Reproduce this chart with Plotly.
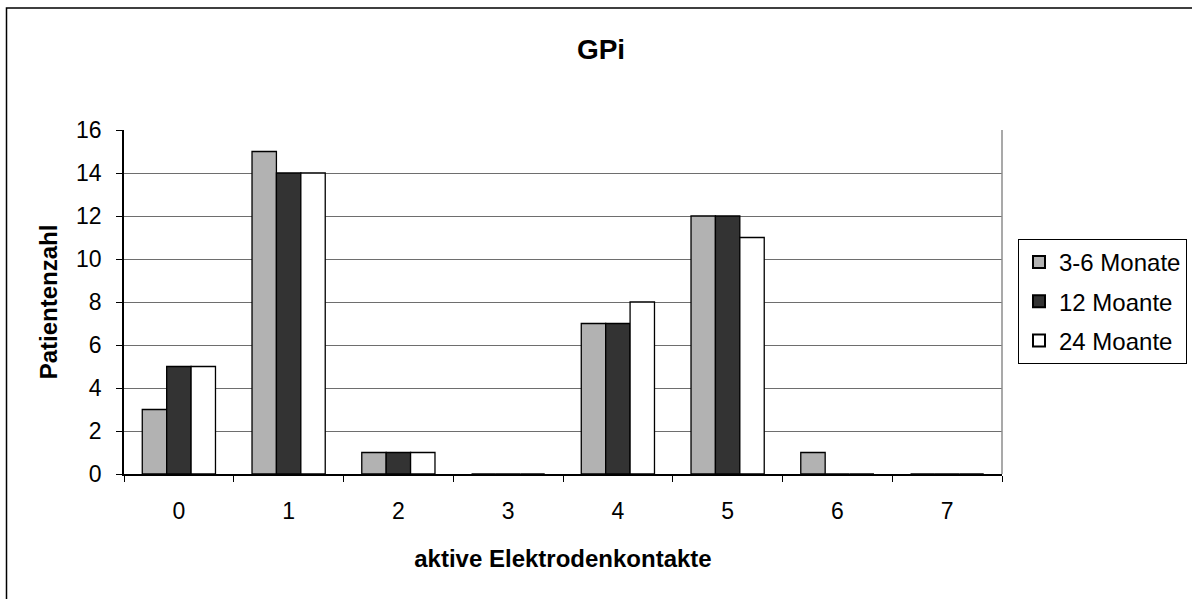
import plotly.graph_objects as go

categories = [0, 1, 2, 3, 4, 5, 6, 7]
series_names = ["3-6 Monate", "12 Moante", "24 Moante"]
v_3_6 = [3, 15, 1, 0, 7, 12, 1, 0]
v_12 = [5, 14, 1, 0, 7, 12, 0, 0]
v_24 = [5, 14, 1, 0, 8, 11, 0, 0]
colors = ["#B2B2B2", "#333333", "#FFFFFF"]
y_ticks = [0, 2, 4, 6, 8, 10, 12, 14, 16]

fig = go.Figure()
for name, vals, col in zip(series_names, [v_3_6, v_12, v_24], colors):
    fig.add_trace(go.Bar(x=categories, y=vals, name=name, legendgroup=name,
                         marker=dict(color=col, line=dict(color="#000000", width=1.3))))

L, R, T, B = 124, 190, 130, 125
W, H = 1192, 599
pw, ph = W - L - R, H - T - B

fig.update_layout(
    width=W, height=H,
    margin=dict(l=L, r=R, t=T, b=B, pad=0, autoexpand=False),
    paper_bgcolor="white", plot_bgcolor="white",
    barmode="group", bargap=0.333, bargroupgap=0,
    font=dict(family="Liberation Sans, Arial, sans-serif", size=23, color="#000"),
    title=dict(text="<b>GPi</b>", x=(601 - L) / pw, xref="paper", xanchor="center",
               y=1 - 49 / H, yanchor="middle", font=dict(size=28)),
    showlegend=True,
    legend=dict(xref="container", yref="container", x=1018 / W, y=1 - 239 / H,
                xanchor="left", yanchor="top",
                bordercolor="#000", borderwidth=1, bgcolor="white",
                font=dict(size=24), itemsizing="constant",
                traceorder="grouped", tracegroupgap=5),
    xaxis=dict(range=[-0.5, 7.5], tickvals=categories, ticktext=[str(c) for c in categories],
               ticks="", showgrid=False, showline=True, linecolor="#000", linewidth=1.5,
               ticklabelstandoff=16, tickfont=dict(size=23),
               minor=dict(tick0=-0.5, dtick=1, ticks="outside", ticklen=6, tickcolor="#000", showgrid=False),
               title=dict(text="<b>aktive Elektrodenkontakte</b>", standoff=27, font=dict(size=24)),
               zeroline=False),
    yaxis=dict(range=[0, 16], tickvals=y_ticks, ticks="outside", ticklen=6, tickcolor="#000",
               showgrid=True, gridcolor="#6E6E6E", gridwidth=1,
               showline=True, linecolor="#000", linewidth=1.5, zeroline=False,
               ticklabelstandoff=10, tickfont=dict(size=23),
               title=dict(text="<b>Patientenzahl</b>", standoff=12, font=dict(size=24))),
)

# right plot border (gray)
fig.add_shape(type="line", xref="paper", yref="paper", x0=1, x1=1, y0=0, y1=1,
              line=dict(color="#8C8C8C", width=1.5))
# outer chart border
fig.add_shape(type="rect", xref="paper", yref="paper",
              x0=(6.5 - L) / pw, x1=(W + 20 - L) / pw,
              y0=-(H + 20 - (T + ph)) / ph, y1=(T + ph - 8) / ph,
              line=dict(color="#000", width=1.5), fillcolor="rgba(0,0,0,0)", layer="below")

fig.write_html("out.html", config={"displayModeBar": False},
               post_script="document.body.style.margin='0px';document.body.style.overflow='hidden';")
